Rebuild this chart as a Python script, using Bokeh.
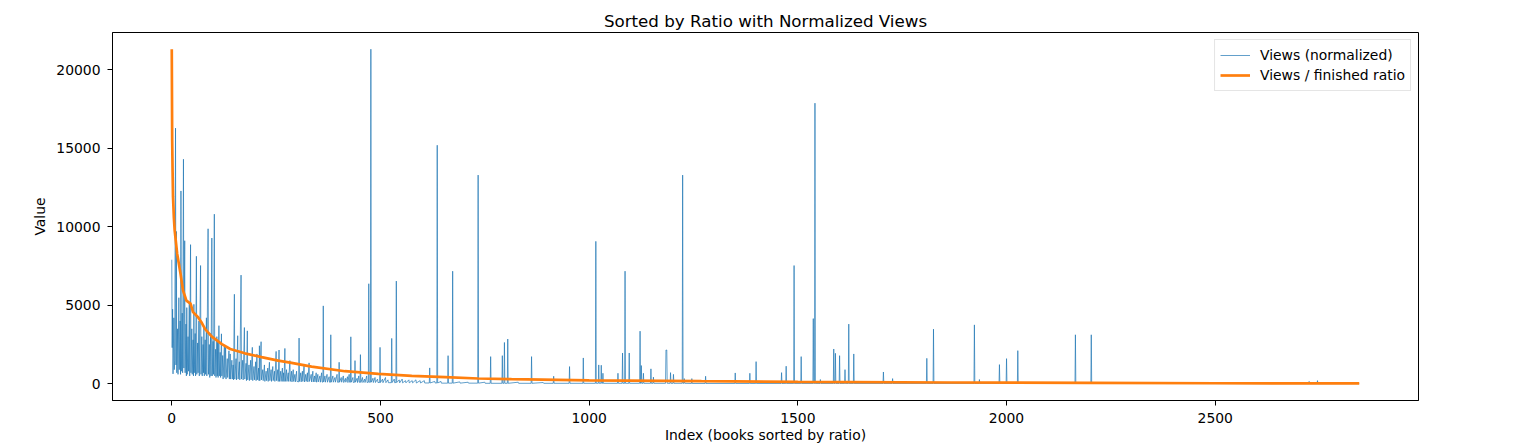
from bokeh.plotting import figure
from bokeh.models import Range1d, FixedTicker, Legend
from bokeh.embed import file_html
from bokeh.resources import INLINE

# ---- data ----
# Views (normalized): vertices of the thin blue line (book index, value)
views_idx = [
    0, 1, 2, 3, 5, 6, 7, 9, 10, 11, 12, 14, 15, 17, 18, 20, 21, 22, 23, 25, 26, 28, 29,
    31, 32, 34, 35, 36, 37, 39, 40, 42, 43, 45, 46, 48, 49, 51, 52, 53, 54, 56, 57, 59,
    60, 62, 63, 65, 66, 69, 70, 72, 73, 75, 76, 77, 78, 80, 81, 83, 84, 87, 88, 90, 91,
    93, 94, 96, 97, 99, 100, 102, 103, 105, 106, 108, 109, 110, 111, 113, 114, 116, 117,
    119, 120, 122, 123, 126, 127, 129, 130, 133, 134, 137, 138, 140, 141, 144, 145, 147,
    148, 150, 151, 154, 155, 158, 159, 162, 163, 166, 167, 170, 171, 174, 175, 178, 179,
    181, 182, 185, 186, 189, 190, 193, 194, 197, 198, 201, 202, 204, 205, 208, 209, 210,
    211, 214, 215, 218, 219, 222, 223, 226, 227, 230, 231, 234, 235, 238, 239, 242, 243,
    246, 247, 250, 251, 254, 255, 257, 258, 261, 262, 265, 266, 268, 269, 271, 272, 275,
    276, 279, 280, 283, 284, 287, 288, 291, 292, 295, 296, 299, 300, 304, 305, 306, 309,
    310, 313, 314, 317, 318, 321, 322, 325, 326, 329, 330, 334, 335, 338, 339, 342, 343,
    346, 347, 350, 351, 355, 356, 359, 360, 362, 363, 364, 367, 368, 372, 373, 377, 378,
    380, 381, 382, 386, 387, 391, 392, 396, 397, 400, 401, 402, 406, 407, 411, 412, 416,
    417, 421, 422, 425, 426, 428, 429, 430, 434, 435, 438, 439, 440, 444, 445, 448, 449,
    451, 452, 453, 457, 458, 462, 463, 467, 468, 471, 472, 473, 476, 477, 478, 482, 483,
    487, 488, 493, 494, 498, 499, 500, 505, 506, 512, 513, 518, 519, 526, 527, 528, 533,
    534, 537, 538, 539, 545, 546, 552, 553, 560, 561, 568, 569, 576, 577, 585, 586, 595,
    596, 605, 606, 617, 618, 619, 630, 631, 635, 636, 637, 645, 646, 661, 662, 663, 672,
    673, 674, 690, 691, 710, 711, 733, 734, 735, 750, 751, 763, 764, 765, 791, 792, 793,
    796, 797, 798, 804, 805, 806, 830, 831, 861, 862, 863, 890, 891, 914, 915, 916, 952,
    953, 954, 985, 986, 987, 1015, 1016, 1017, 1022, 1023, 1024, 1028, 1029, 1030, 1032,
    1033, 1034, 1068, 1069, 1070, 1079, 1080, 1081, 1085, 1086, 1087, 1095, 1096, 1097,
    1121, 1122, 1123, 1124, 1125, 1126, 1129, 1130, 1131, 1147, 1148, 1149, 1153, 1154,
    1155, 1183, 1184, 1185, 1186, 1187, 1194, 1195, 1196, 1201, 1202, 1203, 1223, 1224,
    1225, 1227, 1228, 1229, 1245, 1246, 1247, 1278, 1279, 1280, 1349, 1350, 1351, 1384,
    1385, 1386, 1399, 1400, 1401, 1460, 1461, 1462, 1471, 1472, 1473, 1490, 1491, 1492,
    1507, 1508, 1509, 1536, 1537, 1538, 1540, 1541, 1542, 1553, 1554, 1555, 1585, 1586,
    1587, 1589, 1590, 1591, 1599, 1600, 1601, 1612, 1613, 1614, 1621, 1622, 1623, 1633,
    1634, 1635, 1704, 1705, 1706, 1726, 1727, 1728, 1808, 1809, 1810, 1824, 1825, 1826,
    1922, 1923, 1924, 1934, 1935, 1936, 1982, 1983, 1984, 1999, 2000, 2001, 2026, 2027,
    2028, 2164, 2165, 2166, 2202, 2203, 2204, 2724, 2725, 2726, 2744, 2745, 2746, 2845,
]
views_val = [
    7900, 2300, 4750, 630, 4200, 900, 1500, 16280, 1200, 9700, 700, 3500, 600, 5480, 900,
    4000, 600, 12280, 800, 4500, 700, 14300, 1000, 9110, 700, 3800, 500, 4850, 600, 3000,
    800, 5200, 500, 8860, 700, 3500, 600, 2800, 500, 5060, 700, 3200, 500, 8120, 600,
    2600, 700, 4000, 500, 7530, 600, 3000, 500, 2500, 700, 3580, 500, 2800, 600, 4200,
    500, 9870, 600, 2500, 400, 3200, 500, 9280, 500, 2700, 600, 10800, 500, 2200, 400,
    3000, 500, 2740, 400, 3700, 500, 2000, 400, 3180, 500, 1800, 300, 2400, 400, 2320,
    300, 1600, 400, 2100, 300, 1900, 300, 1500, 300, 1200, 250, 5700, 300, 1600, 250,
    3060, 300, 1400, 250, 6920, 300, 1500, 250, 3580, 300, 1300, 200, 3370, 250, 1200,
    200, 1500, 250, 2320, 200, 1100, 250, 1400, 200, 1900, 250, 1000, 200, 2420, 200,
    2680, 250, 900, 200, 1200, 150, 800, 200, 1000, 150, 1370, 200, 900, 150, 1100, 200,
    800, 150, 2060, 200, 900, 150, 2150, 150, 800, 150, 1000, 150, 700, 150, 2250, 150,
    900, 150, 700, 150, 1475, 150, 800, 120, 900, 150, 600, 120, 800, 150, 120, 2910,
    150, 700, 120, 800, 150, 1260, 120, 600, 150, 700, 120, 1330, 150, 600, 120, 800,
    120, 500, 120, 700, 100, 600, 120, 500, 100, 700, 120, 100, 4960, 120, 500, 100, 600,
    100, 450, 100, 100, 3120, 100, 500, 100, 400, 100, 600, 100, 100, 1370, 100, 400, 100,
    500, 80, 350, 100, 450, 80, 600, 100, 100, 2990, 100, 400, 80, 100, 1475, 100, 350,
    80, 500, 100, 100, 1855, 80, 400, 80, 300, 80, 500, 80, 100, 6370, 100, 100, 21306,
    100, 350, 80, 400, 80, 300, 80, 80, 2320, 80, 300, 70, 400, 70, 250, 70, 70, 2890,
    80, 300, 70, 80, 6540, 80, 250, 60, 300, 60, 200, 60, 250, 60, 200, 60, 250, 50, 200,
    50, 200, 50, 50, 1010, 50, 150, 50, 50, 15190, 50, 150, 40, 40, 1790, 40, 40, 7170,
    40, 120, 40, 100, 40, 40, 13290, 40, 100, 30, 30, 1730, 30, 30, 1790, 30, 30, 2630,
    30, 30, 2850, 30, 100, 30, 30, 1730, 30, 80, 30, 30, 480, 30, 30, 1095, 30, 30, 1645,
    30, 30, 9070, 30, 30, 1200, 30, 30, 1180, 30, 30, 670, 30, 30, 670, 30, 30, 1960, 30,
    30, 7170, 30, 30, 1960, 30, 30, 3350, 30, 30, 1160, 30, 30, 670, 30, 30, 950, 30, 30,
    420, 30, 30, 2150, 2150, 2150, 30, 30, 710, 30, 30, 600, 30, 30, 13290, 30, 30, 330,
    30, 20, 330, 20, 20, 480, 20, 20, 690, 20, 20, 670, 20, 20, 1410, 20, 20, 710, 20, 20,
    1120, 20, 20, 7530, 20, 20, 1730, 20, 20, 4150, 20, 20, 17870, 20, 20, 270, 20, 20,
    2215, 20, 20, 1940, 20, 20, 1790, 20, 20, 900, 20, 20, 3800, 20, 20, 1900, 20, 20,
    750, 20, 20, 330, 20, 20, 1620, 20, 20, 3480, 20, 20, 3750, 20, 20, 270, 20, 20, 1220,
    20, 20, 1600, 20, 20, 2110, 20, 20, 3120, 20, 20, 3120, 20, 10, 150, 10, 10, 200, 10,
    10,
]

# Views / finished ratio: smooth orange curve (book index, value)
ratio_idx = [0, 1, 2, 3, 5, 7, 13, 21, 27, 35, 45, 51, 63, 71, 80, 96, 120, 140, 175,
             215, 255, 287, 335, 415, 495, 575, 655, 734, 814, 1000, 1269, 1500, 1867,
             2200, 2500, 2845]
ratio_val = [21306, 15500, 13500, 11900, 10600, 9750, 8270, 7010, 5940, 5300, 5100, 4560,
             4240, 3920, 3480, 3000, 2530, 2215, 1940, 1700, 1475, 1330, 1095, 800, 630,
             505, 420, 335, 290, 220, 165, 120, 80, 55, 35, 20]

x_ticks = [0, 500, 1000, 1500, 2000, 2500]
y_ticks = [0, 5000, 10000, 15000, 20000]

title_text = "Sorted by Ratio with Normalized Views"
x_label = "Index (books sorted by ratio)"
y_label = "Value"

FONT = "DejaVu Sans"

p = figure(width=1514, height=446, output_backend="svg", toolbar_location=None,
           x_range=Range1d(-142, 2987), y_range=Range1d(-1065, 22370),
           title=title_text)
p.min_border_left = 112
p.min_border_right = 96
p.min_border_top = 32
p.min_border_bottom = 46
p.background_fill_color = "white"
p.border_fill_color = "white"
p.outline_line_color = "black"
p.outline_line_width = 1
p.grid.visible = False

p.title.align = "center"
p.title.text_font = FONT
p.title.text_font_size = "16.7px"
p.title.text_font_style = "normal"
p.title.text_color = "black"
p.title.standoff = 3

l1 = p.line(views_idx, views_val, line_color="#1f77b4", line_width=0.7)
l2 = p.line(ratio_idx, ratio_val, line_color="#ff7f0e", line_width=2.7)

for ax in (p.xaxis[0], p.yaxis[0]):
    ax.axis_line_color = "black"
    ax.major_tick_out = 5
    ax.major_tick_in = 0
    ax.minor_tick_out = 0
    ax.minor_tick_in = 0
    ax.major_label_text_font = FONT
    ax.major_label_text_font_size = "13.9px"
    ax.major_label_text_color = "black"
    ax.axis_label_text_font = FONT
    ax.axis_label_text_font_size = "13.9px"
    ax.axis_label_text_font_style = "normal"
    ax.axis_label_text_color = "black"

p.xaxis[0].ticker = FixedTicker(ticks=x_ticks)
p.yaxis[0].ticker = FixedTicker(ticks=y_ticks)
p.xaxis[0].axis_label = x_label
p.yaxis[0].axis_label = y_label
p.xaxis[0].major_label_standoff = 7
p.xaxis[0].axis_label_standoff = 1
p.yaxis[0].major_label_standoff = 7
p.yaxis[0].axis_label_standoff = 5

legend = Legend(items=[("Views (normalized)", [l1]), ("Views / finished ratio", [l2])],
                location="top_right")
legend.margin = 7
legend.padding = 5
legend.spacing = 0
legend.label_height = 20
legend.glyph_height = 20
legend.glyph_width = 30
legend.label_standoff = 10
legend.label_text_font = FONT
legend.label_text_font_size = "13.9px"
legend.label_text_color = "black"
legend.border_line_color = "#cccccc"
legend.border_line_width = 1
legend.background_fill_alpha = 0.8
p.add_layout(legend)

open("out.html", "w").write(file_html(p, INLINE))
